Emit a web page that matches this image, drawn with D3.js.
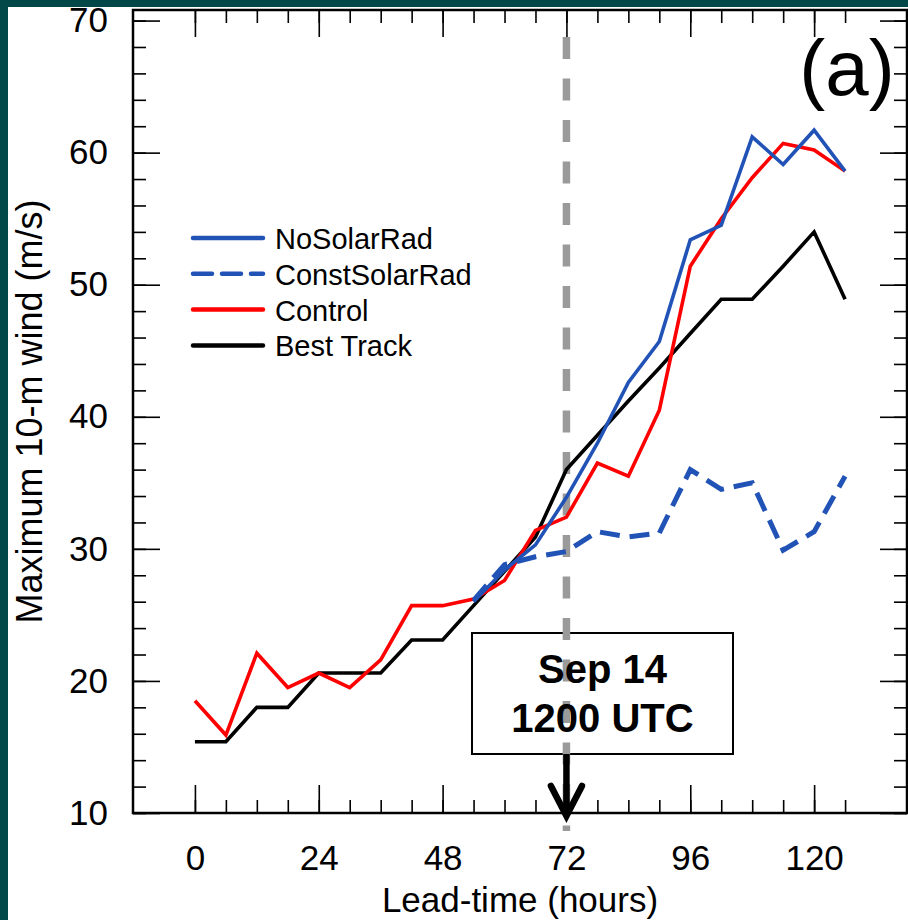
<!DOCTYPE html>
<html>
<head>
<meta charset="utf-8">
<script src="https://cdn.jsdelivr.net/npm/d3@7"></script>
<style>
  body { margin: 0; background: #fff; }
  svg { display: block; font-family: "Liberation Sans", Arial, Helvetica, sans-serif; }
</style>
</head>
<body>
<div id="chart"></div>
<script>
// lead time (hours) and max 10-m wind (m/s)
var hours = [0, 6, 12, 18, 24, 30, 36, 42, 48, 54, 60, 66, 72, 78, 84, 90, 96, 102, 108, 114, 120, 126];
var bestTrack = [15.4, 15.4, 18.0, 18.0, 20.6, 20.6, 20.6, 23.1, 23.1, 25.7, 28.3, 30.9, 36.0, 38.6, 41.2, 43.7, 46.3, 48.9, 48.9, 51.4, 54.0, 48.9];
var control = [18.5, 15.9, 22.1, 19.5, 20.6, 19.5, 21.6, 25.7, 25.7, 26.2, 27.6, 31.4, 32.4, 36.5, 35.5, 40.5, 51.4, 55.0, 58.1, 60.7, 60.2, 58.6];
var noSolarRad = [null, null, null, null, null, null, null, null, null, 26.0, 28.4, 30.3, 33.9, 38.0, 42.6, 45.7, 53.4, 54.5, 61.2, 59.1, 61.7, 58.6];
var constSolarRad = [null, null, null, null, null, null, null, null, null, 26.1, 28.8, 29.4, 29.8, 31.3, 30.9, 31.2, 36.0, 34.5, 35.0, 29.9, 31.3, 35.5];

var yTicks = [10, 20, 30, 40, 50, 60, 70];
var xTicks = [0, 24, 48, 72, 96, 120];
var markHour = 72;
var markLabel = ["Sep 14", "1200 UTC"];

var width = 908,
    height = 920,
    plotL = 133,
    plotR = 907,
    plotT = 10,
    plotB = 813;

var svg = d3.select("#chart")
    .append("svg")
    .attr("width", width)
    .attr("height", height);

// dark frame strips
svg.append("rect").attr("x", 0).attr("y", 0).attr("width", width).attr("height", 7).attr("fill", "#024848");
svg.append("rect").attr("x", 0).attr("y", 0).attr("width", 8).attr("height", height).attr("fill", "#024848");

var x = d3.scaleLinear().domain([-12, 138]).range([plotL, plotR]);
var y = d3.scaleLinear().domain([10, 70.8]).range([plotB, plotT]);

var minorX = hours;
var minorY = d3.range(10, 71, 2);

function styleAxis(g) {
    g.select(".domain").remove();
    g.selectAll("line").attr("stroke", "#000").attr("stroke-width", 1.6);
    g.selectAll("text").attr("fill", "#000").style("font-size", "35px").attr("font-family", null);
}

// minor ticks
svg.append("g").attr("transform", "translate(" + plotL + ",0)")
    .call(d3.axisLeft(y).tickValues(minorY).tickSize(-13).tickFormat(""))
    .call(styleAxis);
svg.append("g").attr("transform", "translate(" + plotR + ",0)")
    .call(d3.axisRight(y).tickValues(minorY).tickSize(-13).tickFormat(""))
    .call(styleAxis);
svg.append("g").attr("transform", "translate(0," + plotB + ")")
    .call(d3.axisBottom(x).tickValues(minorX).tickSize(-13).tickFormat(""))
    .call(styleAxis);
svg.append("g").attr("transform", "translate(0," + plotT + ")")
    .call(d3.axisTop(x).tickValues(minorX).tickSize(-13).tickFormat(""))
    .call(styleAxis);

// major ticks with labels
svg.append("g").attr("transform", "translate(" + plotL + ",0)")
    .call(d3.axisLeft(y).tickValues(yTicks).tickSize(-27).tickPadding(25).tickFormat(d3.format("d")))
    .call(styleAxis);
svg.append("g").attr("transform", "translate(" + plotR + ",0)")
    .call(d3.axisRight(y).tickValues(yTicks).tickSize(-27).tickFormat(""))
    .call(styleAxis);
svg.append("g").attr("transform", "translate(0," + plotB + ")")
    .call(d3.axisBottom(x).tickValues(xTicks).tickSize(-28).tickPadding(32).tickFormat(d3.format("d")))
    .call(styleAxis);
svg.append("g").attr("transform", "translate(0," + plotT + ")")
    .call(d3.axisTop(x).tickValues(xTicks).tickSize(-27).tickFormat(""))
    .call(styleAxis);

// frame
svg.append("rect")
    .attr("x", plotL).attr("y", plotT)
    .attr("width", plotR - plotL).attr("height", plotB - plotT)
    .attr("fill", "none").attr("stroke", "#000").attr("stroke-width", 2.5);

// axis titles
svg.append("text")
    .attr("x", (plotL + plotR) / 2).attr("y", 912)
    .attr("text-anchor", "middle")
    .style("font-size", "35px")
    .text("Lead-time (hours)");

svg.append("text")
    .attr("transform", "translate(42," + (plotT + plotB) / 2 + ") rotate(-90)")
    .attr("text-anchor", "middle")
    .style("font-size", "36px")
    .text("Maximum 10-m wind (m/s)");

svg.append("text")
    .attr("x", 847).attr("y", 95)
    .attr("text-anchor", "middle")
    .style("font-size", "78px")
    .text("(a)");

// annotation box
var bx = x(markHour);
svg.append("rect")
    .attr("x", 472).attr("y", 633)
    .attr("width", 261).attr("height", 121)
    .attr("fill", "#fff").attr("stroke", "#000").attr("stroke-width", 2);

// vertical marker line
svg.append("line")
    .attr("x1", bx).attr("x2", bx)
    .attr("y1", 37).attr("y2", 831)
    .attr("stroke", "#9a9a9a")
    .attr("stroke-width", 7.5)
    .attr("stroke-dasharray", "22,19.5");

svg.selectAll(".mark-label")
    .data(markLabel)
    .enter().append("text")
    .attr("class", "mark-label")
    .attr("x", 602.5)
    .attr("y", function (d, i) { return 683 + i * 48.5; })
    .attr("text-anchor", "middle")
    .style("font-size", "40px")
    .style("font-weight", "bold")
    .text(function (d) { return d; });

// arrow
svg.append("line")
    .attr("x1", bx).attr("x2", bx)
    .attr("y1", 754).attr("y2", 814)
    .attr("stroke", "#000").attr("stroke-width", 6.5);
svg.append("path")
    .attr("d", "M" + (bx - 15.5) + ",786L" + bx + ",816L" + (bx + 15.5) + ",786")
    .attr("fill", "none").attr("stroke", "#000")
    .attr("stroke-width", 6.5)
    .attr("stroke-linecap", "round").attr("stroke-linejoin", "miter");

// series
var series = [
    {label: "Best Track", values: bestTrack, color: "#000000", dash: null, width: 3.6},
    {label: "Control", values: control, color: "#ff0000", dash: null, width: 3.6},
    {label: "NoSolarRad", values: noSolarRad, color: "#2152b6", dash: null, width: 3.6},
    {label: "ConstSolarRad", values: constSolarRad, color: "#2152b6", dash: "20,10", width: 5}
];

var line = d3.line()
    .defined(function (d) { return d[1] != null; })
    .x(function (d) { return x(d[0]); })
    .y(function (d) { return y(d[1]); });

svg.selectAll(".series")
    .data(series)
    .enter().append("path")
    .attr("class", "series")
    .attr("d", function (s) {
        return line(hours.map(function (h, i) { return [h, s.values[i]]; }));
    })
    .attr("fill", "none")
    .attr("stroke", function (s) { return s.color; })
    .attr("stroke-width", function (s) { return s.width; })
    .attr("stroke-dasharray", function (s) { return s.dash; })
    .attr("stroke-linejoin", "miter");

// legend
var legendOrder = ["NoSolarRad", "ConstSolarRad", "Control", "Best Track"];
var legend = svg.selectAll(".legend")
    .data(legendOrder)
    .enter().append("g")
    .attr("class", "legend")
    .attr("transform", function (d, i) { return "translate(193," + (238 + i * 35.8) + ")"; });

legend.append("line")
    .attr("x1", 0).attr("x2", 70)
    .attr("stroke", function (d) { return series.find(function (s) { return s.label == d; }).color; })
    .attr("stroke-width", 4.5)
    .attr("stroke-linecap", "round")
    .attr("stroke-dasharray", function (d) { return d == "ConstSolarRad" ? "19,10" : null; });

legend.append("text")
    .attr("x", 82).attr("y", 11)
    .style("font-size", "29px")
    .text(function (d) { return d; });
</script>
</body>
</html>
